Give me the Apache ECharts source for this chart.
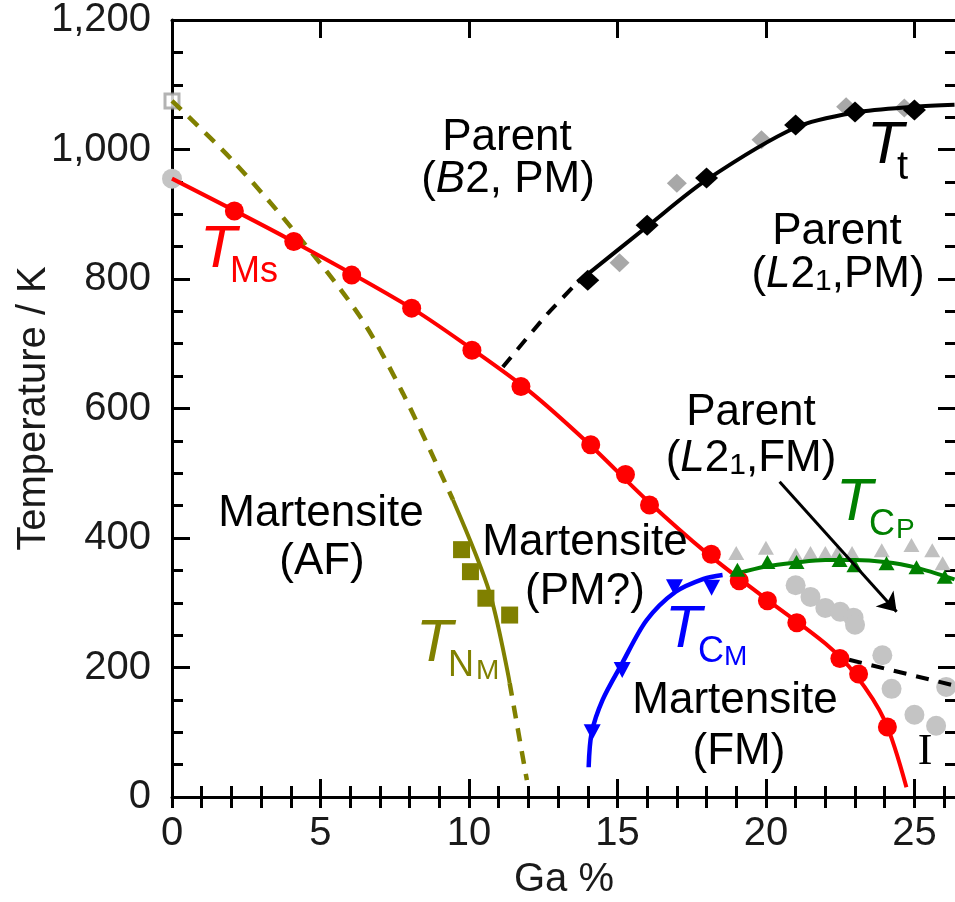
<!DOCTYPE html>
<html><head><meta charset="utf-8">
<script src="https://cdn.jsdelivr.net/npm/echarts@6/dist/echarts.min.js"></script>
<style>html,body{margin:0;padding:0;background:#fff}#c{width:955px;height:902px}</style>
</head><body><div id="c"></div>
<script>
// ---------- data ----------
const xTickLabels = [0, 5, 10, 15, 20, 25];
const yTickLabels = [0, 200, 400, 600, 800, 1000, 1200];

// T_Ms (red circles) and the red fitted line
const msX = [2.1, 4.1, 6.05, 8.07, 10.1, 11.75, 14.1, 15.27, 16.08, 18.16, 19.1, 20.05, 21.04, 22.49, 23.12, 24.09];
const msY = [905, 858, 806, 755, 690, 634, 544, 498, 451, 375, 334, 303, 269, 214, 190, 108];
const msLineX = [0, 4, 8, 10, 12, 14, 16, 18, 20, 22, 23, 24, 24.73];
const msLineY = [955, 860, 757, 695, 628, 547, 458, 377, 306, 237, 190, 118, 15];

// grey literature points
const greyCircleX = [0, 21.0, 21.5, 22.0, 22.5, 22.95, 23.0, 23.92, 24.23, 25.0, 25.73, 26.07];
const greyCircleY = [955, 327, 309, 292, 286, 277, 266, 219, 167, 127, 110, 170];
const greySquareX = [0];
const greySquareY = [1075];
const greyTriX = [19.0, 20.0, 21.0, 21.5, 22.0, 22.4, 22.9, 23.9, 24.9, 25.6, 25.95];
const greyTriY = [377, 385, 374, 377, 377, 377, 377, 381, 389, 381, 361];
const greyDiaX = [15.07, 17.0, 19.85, 22.7, 24.66];
const greyDiaY = [825, 948, 1015, 1066, 1064];

// T_t (black diamonds) and curve
const ttX = [14, 16, 18, 21, 23, 25];
const ttY = [798, 883, 956, 1038, 1058, 1061];
const ttDashX = [11.14, 12.62, 13.66];
const ttDashY = [664, 745, 795];
const ttCurveX = [13.66, 16, 18, 21, 23, 25, 26.35];
const ttCurveY = [795, 881, 953, 1034, 1057, 1066, 1069];

// T_CP (green triangles) and curve
const cpX = [19.04, 20.05, 21.03, 22.48, 22.98, 24.06, 25.07, 26.02];
const cpY = [351, 363, 363, 366, 358, 361, 355, 340];
const cpCurveX = [19.0, 20, 21, 22, 23, 24, 25, 26.35];
const cpCurveY = [345, 356, 362, 366, 366, 363, 355, 336];

// T_CM (blue down-triangles) and curve
const cmX = [14.15, 15.16, 16.92, 18.17];
const cmY = [100, 196, 324, 323];
const cmCurveX = [14.03, 14.13, 14.5, 15.14, 15.98, 16.96, 17.9, 18.54];
const cmCurveY = [46, 99, 150, 205, 273, 317, 337, 343];

// T_NM (olive squares) and curve (dashed / solid / dashed)
const nmX = [9.75, 10.05, 10.57, 11.37];
const nmY = [382, 348, 307, 281];
const nmDash1X = [0, 2, 4.08, 6.33, 7.78, 9.46];
const nmDash1Y = [1075, 985, 876, 742, 623, 459];
const nmSolidX = [9.46, 10.7, 11.37];
const nmSolidY = [459, 315, 176];
const nmDash2X = [11.37, 11.95];
const nmDash2Y = [176, 26];

// black dashed extension at low temperature
const lowDashX = [22.8, 26.35];
const lowDashY = [212, 172];

// arrow from "Parent (L2_1,FM)"
const arrowFrom = [20.46, 487];
const arrowTo = [24.4, 286];

// ---------- helpers ----------
const zip = (xs, ys) => xs.map((x, i) => [x, ys[i]]);
const FF = '"Liberation Sans", Arial, Helvetica, sans-serif';
const RED = '#ff0000', OLIVE = '#808000', GREEN = '#008000', BLUE = '#0000ff';

const chart = echarts.init(document.getElementById('c'), null, {renderer: 'canvas'});

const XMAX = 26.4;
function xAxisDef(pos, interval, len, labels) {
  return {
    type: 'value', position: pos, min: 0, max: XMAX, interval: interval,
    axisLine: {show: true, onZero: false, lineStyle: {color: '#000', width: 3}},
    axisTick: {show: true, inside: true, length: len, lineStyle: {color: '#000', width: 3}},
    axisLabel: labels ? {
      show: true, fontSize: 40, fontFamily: FF, color: '#1a1a1a', margin: 17,
      formatter: v => (xTickLabels.indexOf(v) >= 0 ? String(v) : '')
    } : {show: false},
    splitLine: {show: false},
    name: labels ? 'Ga %' : '', nameLocation: 'middle', nameGap: 63,
    nameTextStyle: {fontSize: 40, fontFamily: FF, color: '#1a1a1a'}
  };
}
function yAxisDef(pos, labels) {
  return {
    type: 'value', position: pos, min: 0, max: 1200, interval: 200,
    axisLine: {show: true, onZero: false, lineStyle: {color: '#000', width: 3}},
    axisTick: {show: true, inside: true, length: 18, lineStyle: {color: '#000', width: 3}},
    minorTick: {show: true, splitNumber: 4, length: 11, lineStyle: {color: '#000', width: 3}},
    axisLabel: labels ? {
      show: true, fontSize: 40, fontFamily: FF, color: '#1a1a1a', margin: 21,
      formatter: v => (yTickLabels.indexOf(v) >= 0 ? v.toLocaleString('en-US') : '')
    } : {show: false},
    splitLine: {show: false}, minorSplitLine: {show: false},
    name: labels ? 'Temperature / K' : '', nameLocation: 'middle', nameGap: 118,
    nameMoveOverlap: false,
    nameTextStyle: {fontSize: 40, fontFamily: FF, color: '#1a1a1a'}
  };
}

function lineSeries(data, color, width, dashed, smooth) {
  return {
    type: 'line', data: data, showSymbol: false, symbol: 'none',
    smooth: smooth === undefined ? 0.3 : smooth,
    clip: false, silent: true,
    lineStyle: {color: color, width: width, type: dashed ? [13, 10] : 'solid', cap: 'butt'},
    z: 3
  };
}
function scatter(data, symbol, size, color, extra) {
  return Object.assign({
    type: 'scatter', data: data, symbol: symbol, symbolSize: size, clip: false, silent: true,
    itemStyle: {color: color, opacity: 1}, z: 4
  }, extra || {});
}

const txt = (x, y, text, size, color, extra) => ({
  type: 'text', x: x, y: y, z: 100, silent: true,
  style: Object.assign({text: text, fill: color || '#000', fontSize: size, fontFamily: FF,
    align: 'center', verticalAlign: 'middle'}, extra || {})
});
const richParen = {
  i: {fontStyle: 'italic', fontSize: 44, fontFamily: FF, lineHeight: 44},
  n: {fontSize: 44, fontFamily: FF, lineHeight: 44},
  s: {fontSize: 30, fontFamily: FF, lineHeight: 22, verticalAlign: 'bottom'}
};
const tLabel = (x, y, color, sub1, sub2, xs1, xs2, s1size) => {
  const arr = [
    txt(x, y, 'T', 60, color, {fontStyle: 'italic', align: 'left'}),
    txt(xs1, y + 22, sub1, s1size || 36, color, {align: 'left'})
  ];
  if (sub2) arr.push(txt(xs2, y + 27, sub2, 28, color, {align: 'left'}));
  return arr;
};

const graphics = [
  txt(507, 138, 'Parent', 44),
  txt(508, 180, '{n|(}{i|B}{n|2, PM)}', 44, '#000', {rich: richParen}),
  txt(837, 232, 'Parent', 44),
  txt(838, 275, '{n|(}{i|L}{n|2}{s|1}{n|,PM)}', 44, '#000', {rich: richParen}),
  txt(751, 413, 'Parent', 44),
  txt(751, 459, '{n|(}{i|L}{n|2}{s|1}{n|,FM)}', 44, '#000', {rich: richParen}),
  txt(321, 514, 'Martensite', 44),
  txt(322, 562, '(AF)', 44),
  txt(585, 543, 'Martensite', 44),
  txt(585, 592, '(PM?)', 44),
  txt(735, 701, 'Martensite', 44),
  txt(739, 752, '(FM)', 44),
  txt(925, 752, 'I', 44, '#000', {fontFamily: '"Liberation Serif", "DejaVu Serif", serif'}),
  ...tLabel(200, 250, RED, 'Ms', null, 230, 0),
  ...tLabel(867, 146, '#000', 't', null, 897, 0, 40),
  ...tLabel(836, 503, GREEN, 'C', 'P', 869, 896),
  ...tLabel(665, 630, BLUE, 'C', 'M', 698, 724),
  ...tLabel(416, 644, OLIVE, 'N', 'M', 448, 476)
];

const option = {
  animation: false,
  backgroundColor: '#fff',
  grid: {left: 172, right: -1, top: 20, bottom: 105, containLabel: false, outerBoundsMode: 'none'},
  xAxis: [
    xAxisDef('bottom', 5, 18, true),
    Object.assign(xAxisDef('bottom', 1, 11, false), {axisLine: {show: false}}),
    xAxisDef('top', 5, 18, false),
    Object.assign(xAxisDef('top', 1, 11, false), {axisLine: {show: false}})
  ],
  yAxis: [yAxisDef('left', true), yAxisDef('right', false)],
  series: [
    // olive T_NM
    lineSeries(zip(nmDash1X, nmDash1Y), OLIVE, 4.5, true),
    lineSeries(zip(nmSolidX, nmSolidY), OLIVE, 4, false),
    lineSeries(zip(nmDash2X, nmDash2Y), OLIVE, 4.5, true),
    // grey points
    scatter(zip(greyTriX, greyTriY), 'triangle', [16, 14], '#c0c0c0', {z: 2}),
    scatter(zip(greyCircleX, greyCircleY), 'circle', 20, '#c4c4c4', {z: 2}),
    scatter(zip(greySquareX, greySquareY), 'rect', 14, '#fff', {itemStyle: {color: '#fff', borderColor: '#a0a0a0', borderWidth: 3}, z: 2}),
    scatter(zip(greyDiaX, greyDiaY), 'diamond', [20, 19], '#a8a8a8', {z: 2}),
    // black T_t
    lineSeries(zip(ttDashX, ttDashY), '#000', 4, true, 0.2),
    lineSeries(zip(ttCurveX, ttCurveY), '#000', 4, false),
    scatter(zip(ttX, ttY), 'diamond', [23, 21], '#000'),
    // low-temperature dashed line
    lineSeries(zip(lowDashX, lowDashY), '#000', 4, true, false),
    // blue T_CM
    lineSeries(zip(cmCurveX, cmCurveY), BLUE, 4.5, false),
    scatter(zip(cmX, cmY), 'triangle', [17, 16], BLUE, {symbolRotate: 180}),
    // red T_Ms
    lineSeries(zip(msLineX, msLineY), RED, 4, false, 0.3),
    scatter(zip(msX, msY), 'circle', 19, RED),
    // green T_CP
    lineSeries(zip(cpCurveX, cpCurveY), GREEN, 4, false),
    scatter(zip(cpX, cpY), 'triangle', [16, 14], GREEN, {z: 5}),
    // olive squares
    scatter(zip(nmX, nmY), 'rect', 17, OLIVE),
    // arrow
    {
      type: 'lines', coordinateSystem: 'cartesian2d', silent: true, z: 6,
      symbol: ['none', 'arrow'], symbolSize: [0, 18],
      lineStyle: {color: '#000', width: 3, opacity: 1},
      data: [{coords: [arrowFrom, arrowTo]}]
    }
  ],
  graphic: graphics
};
chart.setOption(option);
</script>
</body></html>
